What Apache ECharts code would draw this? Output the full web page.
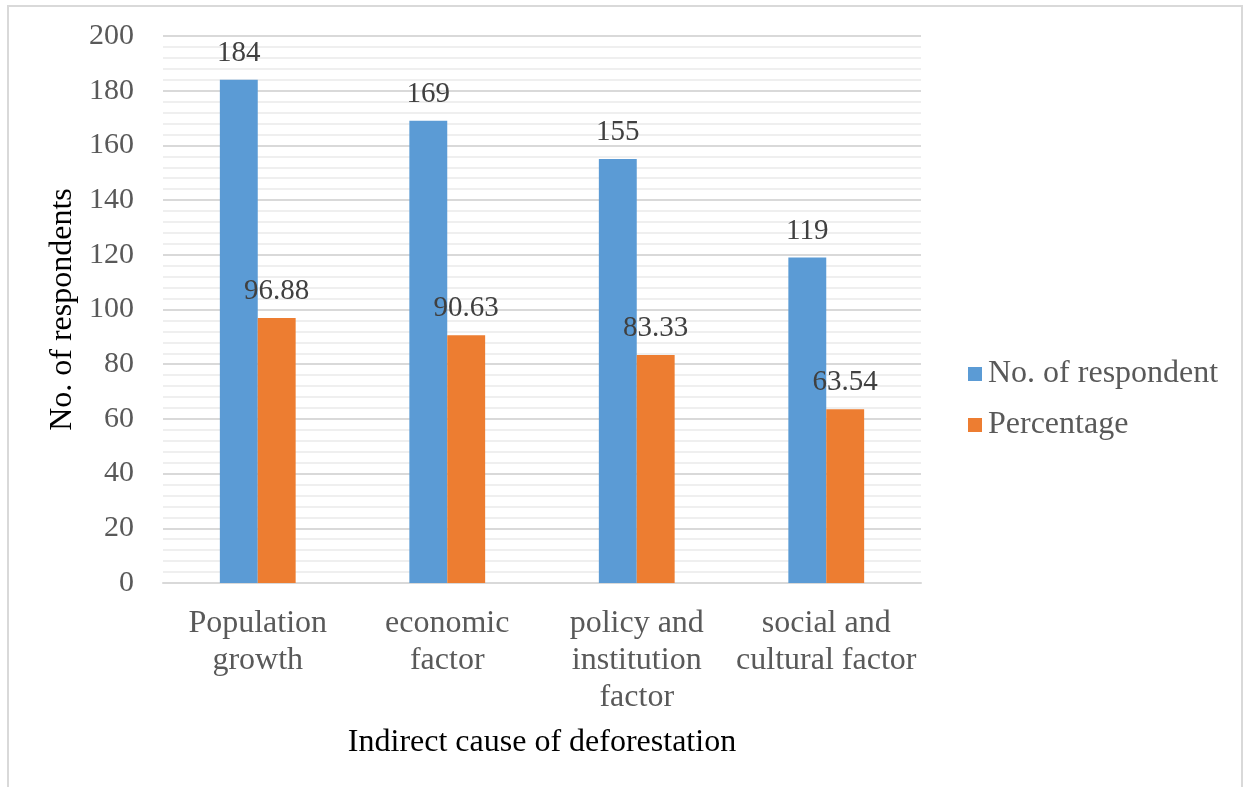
<!DOCTYPE html>
<html>
<head>
<meta charset="utf-8">
<script src="https://cdn.jsdelivr.net/npm/echarts@6/dist/echarts.min.js"></script>
<style>
  html, body { margin: 0; padding: 0; background: #ffffff; }
  #chart { width: 1244px; height: 787px; }
</style>
</head>
<body>
<div id="chart"></div>
<script>
// Indirect causes of deforestation reported by respondents
const categories = [
  'Population\ngrowth',
  'economic\nfactor',
  'policy and\ninstitution\nfactor',
  'social and\ncultural factor'
];
const respondents = [184, 169, 155, 119];
const percentages = [96.88, 90.63, 83.33, 63.54];
const yTicks = { min: 0, max: 200, step: 20 };

const serif = '"Liberation Serif", "Times New Roman", serif';

const chart = echarts.init(document.getElementById('chart'), null, { renderer: 'canvas' });

const barLabel = {
  show: true,
  position: 'top',
  distance: 12,
  color: '#404040',
  fontFamily: serif,
  fontSize: 29
};

chart.setOption({
  backgroundColor: '#ffffff',
  animation: false,
  graphic: [{
    type: 'rect',
    silent: true,
    shape: { x: 8, y: 6, width: 1234, height: 800 },
    style: { fill: 'none', stroke: '#d9d9d9', lineWidth: 2 }
  }],
  grid: { left: 163, right: 323, top: 36, bottom: 204 },
  legend: {
    orient: 'vertical',
    left: 963,
    top: 353,
    itemWidth: 14,
    itemHeight: 14,
    itemGap: 19,
    icon: 'rect',
    textStyle: { color: '#595959', fontFamily: serif, fontSize: 32, lineHeight: 32, padding: [0, 0, 0, 1] },
    data: ['No. of respondent', 'Percentage']
  },
  xAxis: {
    type: 'category',
    data: categories,
    name: 'Indirect cause of deforestation',
    nameLocation: 'middle',
    nameGap: 144,
    nameTextStyle: { color: '#000000', fontFamily: serif, fontSize: 32, lineHeight: 32 },
    axisLine: { show: true, lineStyle: { color: '#d9d9d9', width: 2 } },
    axisTick: { show: false },
    axisLabel: {
      color: '#595959',
      fontFamily: serif,
      fontSize: 32,
      lineHeight: 37,
      margin: 22,
      interval: 0
    }
  },
  yAxis: {
    type: 'value',
    min: yTicks.min,
    max: yTicks.max,
    interval: yTicks.step,
    name: 'No. of respondents',
    nameLocation: 'middle',
    nameGap: 83,
    nameTextStyle: { color: '#000000', fontFamily: serif, fontSize: 32, lineHeight: 32 },
    axisLine: { show: false },
    axisTick: { show: false },
    axisLabel: { color: '#595959', fontFamily: serif, fontSize: 30, margin: 29, padding: [3, 0, 0, 0] },
    splitLine: { show: true, lineStyle: { color: '#d9d9d9', width: 2 } },
    minorTick: { show: false, splitNumber: 5 },
    minorSplitLine: { show: true, lineStyle: { color: '#efefef', width: 2 } }
  },
  series: [
    {
      name: 'No. of respondent',
      type: 'bar',
      data: respondents,
      barGap: '0%',
      barCategoryGap: '60%',
      itemStyle: { color: '#5b9bd5' },
      label: barLabel
    },
    {
      name: 'Percentage',
      type: 'bar',
      data: percentages,
      barGap: '0%',
      barCategoryGap: '60%',
      itemStyle: { color: '#ed7d31' },
      label: barLabel
    }
  ]
});
</script>
</body>
</html>
